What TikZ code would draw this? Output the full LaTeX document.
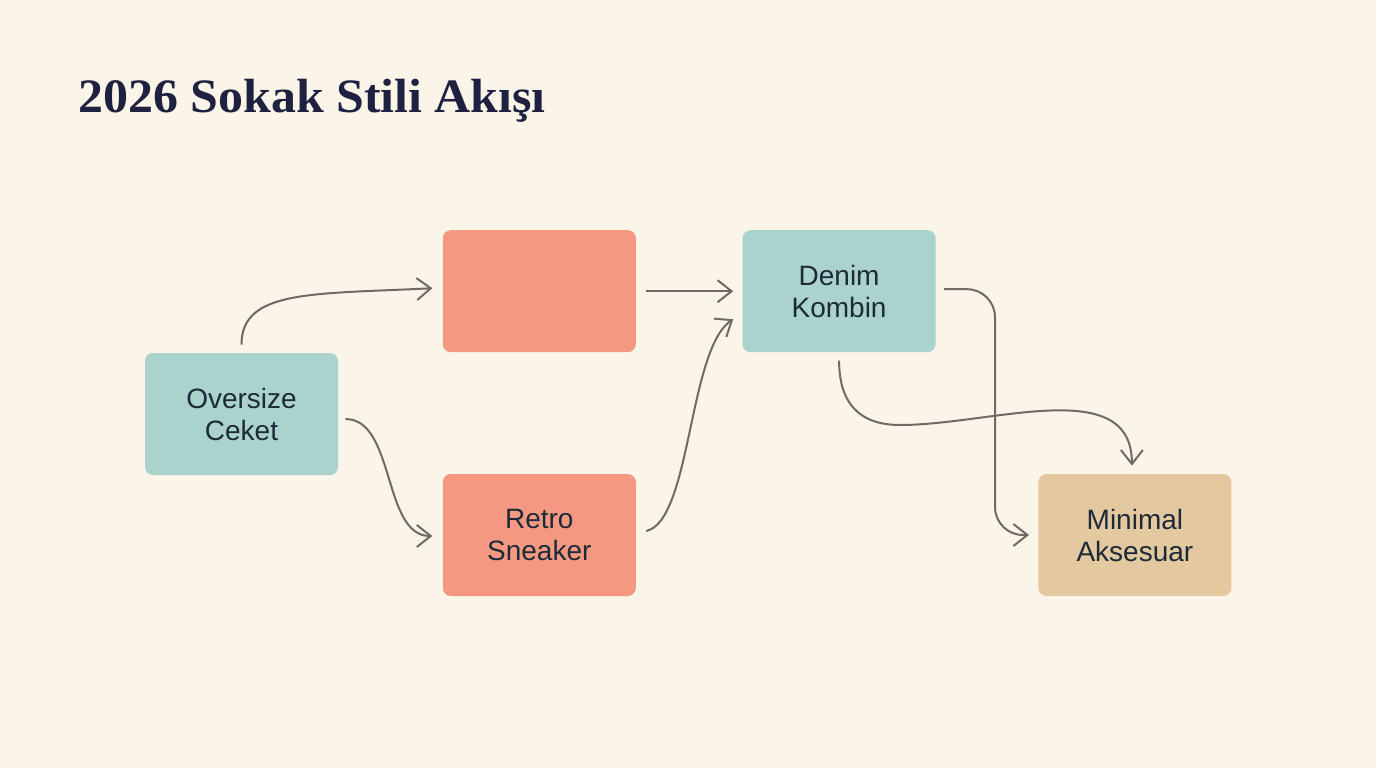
\documentclass[tikz,border=0pt]{standalone}
\usepackage{fontspec}
\setmainfont{Liberation Sans}
\newfontfamily\baslikfont[FakeStretch=1.04]{Liberation Serif}
\usepackage{xcolor}
\usepackage{tikz}
\usetikzlibrary{arrows.meta, positioning}

\definecolor{zemin}{HTML}{FBF4E9}
\definecolor{turkuaz}{HTML}{AAD3CD}
\definecolor{mercan}{HTML}{F59882}
\definecolor{kum}{HTML}{E4C9A0}
\definecolor{yazi}{HTML}{1D2A38}
\definecolor{baslikrenk}{HTML}{1E2240}
\definecolor{cizgi}{HTML}{6F6A64}

\begin{document}
\begin{tikzpicture}[x=0.5pt, y=0.5pt, node distance=52pt,
        kutu/.style={rectangle, rounded corners=4pt, minimum width=96.5pt, minimum height=61pt, align=center, text=yazi, font=\fontsize{14}{16}\selectfont},
        line/.style={draw, cizgi, line width=1pt, -{Straight Barb[length=7pt, width=11pt]}}]

        \fill [zemin] (0,0) rectangle (1376,768);
        \useasboundingbox (0,0) rectangle (1376,768);

        % Title
        \node [anchor=base west, inner sep=0pt, text=baslikrenk, font=\baslikfont\bfseries\fontsize{24}{30}\selectfont] (baslik) at (78,656) {2026 Sokak Stili Akışı};

        % Nodes
        \node [kutu, fill=turkuaz] (ceket) at (241.5,354) {Oversize\\Ceket};
        \node [kutu, fill=mercan, above right=0pt and 52pt of ceket] (renk) {};
        \node [kutu, fill=mercan, below=60.5pt of renk] (sneaker) {Retro\\Sneaker};
        \node [kutu, fill=turkuaz, right=53pt of renk] (denim) {Denim\\Kombin};
        \node [kutu, fill=kum, below right=60.5pt and 51pt of denim] (aksesuar) {Minimal\\Aksesuar};
        \coordinate (dip) at (900,343);

        % Edges
        \path [line] ([shift={(0,8)}]ceket.north) .. controls +(0,55) and +(-120,-6) .. ([shift={(-10,3)}]renk.west);
        \path [line] ([shift={(7,-5)}]ceket.east) .. controls +(50,0) and +(-50,0) .. ([shift={(-10,-1)}]sneaker.west);
        \path [line] ([xshift=5pt]renk.east) -- ([xshift=-4.5pt]denim.west);
        \path [line] ([shift={(10,4)}]sneaker.east) .. controls +(45,10) and +(-45,-30) .. ([shift={(-9,-28)}]denim.west);
        \path [line, rounded corners=14pt] ([shift={(8,2)}]denim.east) -| (995,350) |- ([xshift=-4.5pt]aksesuar.west);
        \path [line] ([yshift=-4pt]denim.south) to[out=-90, in=180, looseness=1.2] (dip) to[out=0, in=90] ([shift={(-3,8)}]aksesuar.north);

    \end{tikzpicture}
\end{document}
